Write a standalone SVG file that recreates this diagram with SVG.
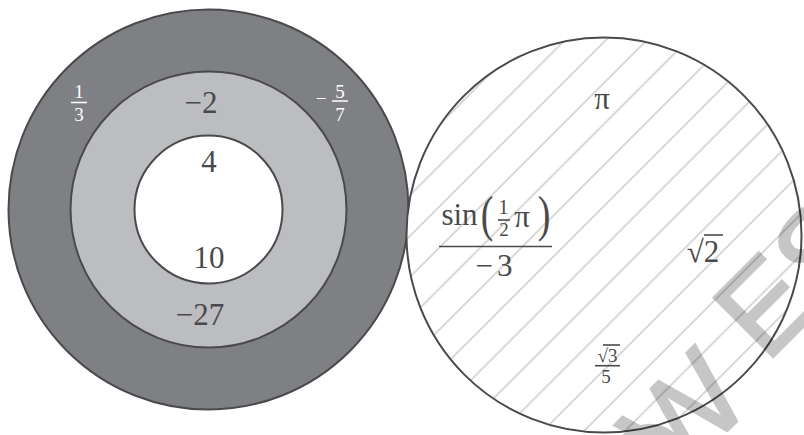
<svg xmlns="http://www.w3.org/2000/svg" width="804" height="435" viewBox="0 0 804 435">
<defs>
<style>
.m{font-family:"Liberation Serif","DejaVu Serif",serif;fill:#4a4a4c;text-anchor:middle}
.w{fill:#ffffff}
.ring{stroke:#4a4a4c;stroke-width:2}
.bar{stroke:#4a4a4c;stroke-width:1.6}
.wm{font-family:"Liberation Sans",Arial,sans-serif;font-size:122px;fill:#000000;stroke:#000000;stroke-width:2.5}
</style>
<pattern id="hatch" patternUnits="userSpaceOnUse" width="41" height="41">
<path d="M-5,36 L36,-5 M26,46 L46,26" stroke="#d9d9da" stroke-width="2"/>
</pattern>
</defs>
<rect width="804" height="435" fill="#ffffff"/>
<g id="left-set">
<circle id="outer" class="ring" cx="208.5" cy="209.5" r="200" fill="#7f8084"/>
<circle id="middle" class="ring" cx="208.5" cy="209.5" r="138" fill="#bcbdc0"/>
<circle id="inner" class="ring" cx="208.5" cy="209.5" r="74" fill="#ffffff"/>
</g>
<g id="right-set">
<circle cx="604" cy="235" r="197.5" fill="#ffffff"/>
<circle cx="604" cy="235" r="196.5" fill="url(#hatch)"/>
<circle cx="604" cy="235" r="197.5" fill="none" stroke="#4a4a4c" stroke-width="2"/>
</g>
<g id="labels-left">
<text class="m" x="209" y="172" font-size="31">4</text>
<text class="m" x="209" y="268" font-size="31">10</text>
<text class="m" x="201" y="113" font-size="31">−2</text>
<text class="m" x="200" y="325" font-size="31">−27</text>
<g id="frac-1-3">
<text class="m w" x="79" y="98" font-size="19">1</text>
<line x1="71" y1="102.5" x2="87" y2="102.5" stroke="#ffffff" stroke-width="1.5"/>
<text class="m w" x="79" y="121" font-size="19">3</text>
</g>
<g id="frac-m5-7">
<text class="m w" x="321" y="105" font-size="19">−</text>
<text class="m w" x="340" y="98" font-size="19">5</text>
<line x1="332" y1="101" x2="348" y2="101" stroke="#ffffff" stroke-width="1.5"/>
<text class="m w" x="340" y="121" font-size="19">7</text>
</g>
</g>
<g id="labels-right">
<text class="m" x="602" y="109" font-size="31">π</text>
<g id="sin-frac">
<text class="m" x="459.5" y="225" font-size="31">sin</text>
<text class="m" transform="translate(487 230.5) scale(1 1.35)" font-size="38">(</text>
<text class="m" x="503.5" y="214" font-size="20">1</text>
<line class="bar" x1="498" y1="220" x2="510" y2="220" stroke-width="1.2"/>
<text class="m" x="504" y="236" font-size="19">2</text>
<text class="m" x="522" y="227" font-size="31">π</text>
<text class="m" transform="translate(544 230.5) scale(1 1.35)" font-size="38">)</text>
<line class="bar" x1="439" y1="246.5" x2="552" y2="246.5" stroke-width="2.2"/>
<text class="m" x="494" y="276" font-size="31">−<tspan dx="4">3</tspan></text>
</g>
<g id="sqrt2">
<text class="m" x="703" y="262" font-size="31">√2</text>
<line class="bar" x1="704" y1="235" x2="723" y2="235"/>
</g>
<g id="sqrt3-5">
<text class="m" x="607.5" y="362" font-size="19">√3</text>
<line class="bar" x1="603" y1="345" x2="620" y2="345" stroke-width="1.2"/>
<line class="bar" x1="595" y1="365.7" x2="620" y2="365.7" stroke-width="1.4"/>
<text class="m" x="606" y="383" font-size="19">5</text>
</g>
</g>
<g id="watermark" opacity="0.22" transform="translate(766 364) rotate(-45)">
<text class="wm" x="-203" y="35">O</text>
<text class="wm" x="-151" y="20">W</text>
<text class="wm" x="0" y="0">E</text>
<text class="wm" x="81" y="0">S</text>
</g>
</svg>
